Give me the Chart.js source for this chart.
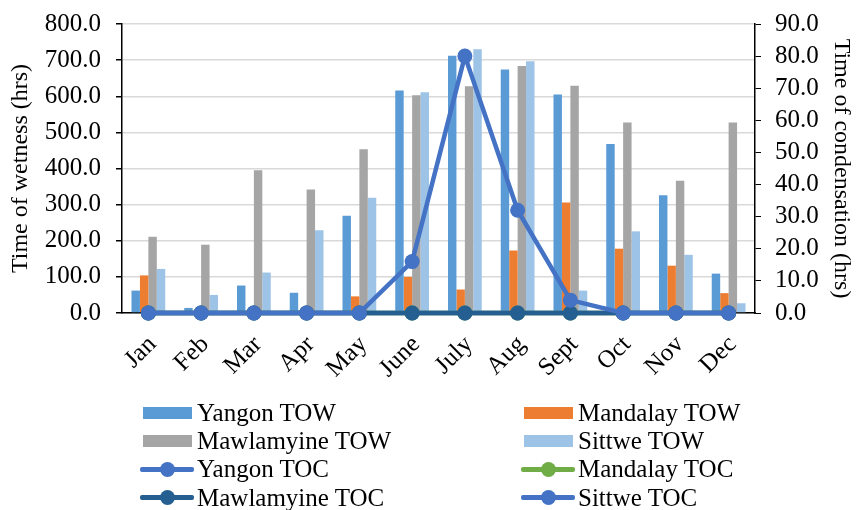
<!DOCTYPE html>
<html>
<head>
<meta charset="utf-8">
<script src="https://cdn.jsdelivr.net/npm/chart.js@4"></script>
<style>
  html, body { margin: 0; padding: 0; background: #fff; }
  #wrap { position: relative; width: 859px; height: 510px; }
  #chart { position: absolute; left: 0; top: 0; }
  #legend { position: absolute; left: 0; top: 0; width: 859px; height: 510px; pointer-events: none;
            font-family: "Liberation Serif", "Times New Roman", serif; font-size: 25px; color: #000; }
  .item { position: absolute; height: 29px; display: flex; align-items: center; white-space: nowrap; }
  .box { width: 49px; height: 12px; margin-right: 5px; }
  .ln { position: relative; width: 54px; height: 15px; margin-right: 3px; }
  .ln .bar { position: absolute; left: 0; right: 0; top: 5px; height: 5px; border-radius: 2px; }
  .ln .dot { position: absolute; left: 20px; top: 0; width: 15px; height: 15px; border-radius: 50%; }
</style>
</head>
<body>
<div id="wrap">
  <canvas id="chart" width="859" height="510"></canvas>
  <div id="legend"></div>
</div>
<script>
// Monthly time of wetness (TOW) and time of condensation (TOC), hours
const months = ['Jan', 'Feb', 'Mar', 'Apr', 'May', 'June', 'July', 'Aug', 'Sept', 'Oct', 'Nov', 'Dec'];

const yangonTOW     = [62, 14, 76, 56, 269, 616, 712, 674, 605, 468, 326, 109];
const mandalayTOW   = [104, 0, 0, 0, 46, 100, 65, 173, 306, 178, 131, 55];
const mawlamyineTOW = [211, 189, 395, 342, 453, 603, 628, 684, 629, 527, 366, 527];
const sittweTOW     = [122, 50, 112, 229, 319, 611, 730, 697, 62, 226, 161, 27];

const yangonTOC     = [0, 0, 0, 0, 0, 0, 0, 0, 0, 0, 0, 0];
const mandalayTOC   = [0, 0, 0, 0, 0, 0, 0, 0, 0, 0, 0, 0];
const mawlamyineTOC = [0, 0, 0, 0, 0, 0, 0, 0, 0, 0, 0, 0];
const sittweTOC     = [0, 0, 0, 0, 0, 16, 80, 32, 4, 0, 0, 0];

const towTicks = [0, 100, 200, 300, 400, 500, 600, 700, 800];
const tocTicks = [0, 10, 20, 30, 40, 50, 60, 70, 80, 90];

const FONT = '"Liberation Serif", "Times New Roman", serif';

function barSet(label, data, color, order) {
  return { type: 'bar', label, data, backgroundColor: color, borderWidth: 0,
           yAxisID: 'y', order, categoryPercentage: 0.64, barPercentage: 1.0 };
}
function lineSet(label, data, color, order) {
  return { type: 'line', label, data, borderColor: color, backgroundColor: color,
           borderWidth: 4.5, pointRadius: 7.5, pointHoverRadius: 7.5, pointBorderWidth: 0,
           pointBackgroundColor: color, yAxisID: 'y2', order, clip: false, tension: 0 };
}

// Later TOC series sit on top of earlier ones; all lines sit above the bars
const datasets = [
  barSet('Yangon TOW', yangonTOW, '#5B9BD5', 10),
  barSet('Mandalay TOW', mandalayTOW, '#ED7D31', 11),
  barSet('Mawlamyine TOW', mawlamyineTOW, '#A5A5A5', 12),
  barSet('Sittwe TOW', sittweTOW, '#9DC3E6', 13),
  lineSet('Yangon TOC', yangonTOC, '#4472C4', 3),
  lineSet('Mandalay TOC', mandalayTOC, '#70AD47', 2),
  lineSet('Mawlamyine TOC', mawlamyineTOC, '#255E91', 1),
  lineSet('Sittwe TOC', sittweTOC, '#4472C4', 0)
];

// Fixed scale boxes so the plot area lands in a set place
function noPad(s) { s.paddingTop = 0; s.paddingBottom = 0; s.paddingLeft = 0; s.paddingRight = 0; }

const chart = new Chart(document.getElementById('chart'), {
  data: { labels: months, datasets },
  options: {
    responsive: false,
    animation: false,
    events: [],
    layout: { padding: { top: 24, bottom: 120, left: 0, right: 0 } },
    plugins: { legend: { display: false }, tooltip: { enabled: false } },
    scales: {
      x: {
        grid: { display: false, drawTicks: false },
        border: { display: true, color: '#000', width: 1.5 },
        ticks: { color: '#000', font: { family: FONT, size: 25 }, minRotation: 45, maxRotation: 45,
                 padding: 17, labelOffset: 4, autoSkip: false },
        afterFit: s => { s.height = 77; noPad(s); }
      },
      y: {
        position: 'left', min: 0, max: 800,
        afterBuildTicks: s => { s.ticks = towTicks.map(v => ({ value: v })); },
        grid: { color: '#D9D9D9', lineWidth: 1.5, tickColor: '#000', tickLength: 6 },
        border: { display: true, color: '#000', width: 1.5 },
        ticks: { color: '#000', font: { family: FONT, size: 25 }, padding: 15, autoSkip: false,
                 callback: v => Number(v).toFixed(1) },
        title: { display: true, text: 'Time of wetness (hrs)', color: '#000',
                 font: { family: FONT, size: 24 }, padding: { top: 6, bottom: 0 } },
        afterFit: s => { s.width = 122; noPad(s); }
      },
      y2: {
        position: 'right', min: 0, max: 90,
        afterBuildTicks: s => { s.ticks = tocTicks.map(v => ({ value: v })); },
        grid: { drawOnChartArea: false, tickColor: '#000', tickLength: 6 },
        border: { display: true, color: '#000', width: 1.5 },
        ticks: { color: '#000', font: { family: FONT, size: 25 }, padding: 14, autoSkip: false,
                 callback: v => Number(v).toFixed(1) },
        title: { display: true, text: 'Time of condensation (hrs)', color: '#000',
                 font: { family: FONT, size: 24 }, padding: { top: 3, bottom: 0 } },
        afterFit: s => { s.width = 104; noPad(s); }
      }
    }
  }
});

// Two-column legend under the plot, built from the dataset definitions
const legend = document.getElementById('legend');
const cols = [{ box: 143, line: 140 }, { box: 524, line: 521 }];
const rowTops = [398, 426.5, 454.5, 483];
datasets.forEach((ds, i) => {
  const col = cols[i % 2];
  const top = rowTops[Math.floor(i / 2)];
  const item = document.createElement('div');
  item.className = 'item';
  item.style.top = top + 'px';
  let sw;
  if (ds.type === 'bar') {
    item.style.left = col.box + 'px';
    sw = document.createElement('div');
    sw.className = 'box';
    sw.style.background = ds.backgroundColor;
  } else {
    item.style.left = col.line + 'px';
    sw = document.createElement('div');
    sw.className = 'ln';
    sw.innerHTML = '<div class="bar"></div><div class="dot"></div>';
    sw.querySelector('.bar').style.background = ds.borderColor;
    sw.querySelector('.dot').style.background = ds.borderColor;
  }
  const txt = document.createElement('span');
  txt.textContent = ds.label;
  item.appendChild(sw);
  item.appendChild(txt);
  legend.appendChild(item);
});
</script>
</body>
</html>
